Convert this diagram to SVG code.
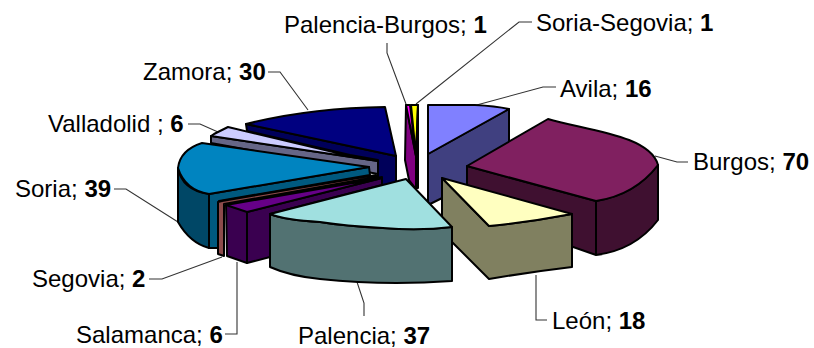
<svg xmlns="http://www.w3.org/2000/svg" width="814" height="348" viewBox="0 0 814 348">
<style>
text{font-family:"Liberation Sans",Arial,sans-serif;font-size:24px;fill:#000}
tspan{font-weight:bold}
.s path{stroke:#000;stroke-width:2;stroke-linejoin:round}
#connectors path{fill:none;stroke:#333;stroke-width:1.1}
</style>
<rect width="814" height="348" fill="#fff"/>
<g id="connectors">
<path d="M308 110L280 72H268"/>
<path d="M218 132L200 124H188"/>
<path d="M178 222L126 189H114"/>
<path d="M222 257L162 279H149"/>
<path d="M237 262V334H225"/>
<path d="M357 282L364 303V316"/>
<path d="M536 275V320H547"/>
<path d="M655 156L677 162H688"/>
<path d="M473 106L543 87H556"/>
<path d="M406 104L387 53V43"/>
<path d="M416 104L519 22H532"/>
</g>
<g id="zamora" class="s"><path d="M246 124L247 131L350 155L378 160V188L396 185V156Z" fill="#00005a"/><path d="M246 124Q310 108 385 107L396 156Z" fill="#000080"/></g>
<g id="valladolid" class="s"><path d="M211 136V143L378 174V161Z" fill="#666687"/><path d="M214 134L228 127L350 156L378 161L211 136Z" fill="#ccccff"/></g>
<g id="soria" class="s"><path d="M209 194V248Q190 243 178 222V168Q182 190 209 194Z" fill="#004766"/><path d="M209 194L369 167L370 175L219 201L218 248H209Z" fill="#00597f"/><path d="M209 194Q185 190 178 168Q180 150 202 143L369 167Z" fill="#0084c0"/></g>
<g id="segovia" class="s"><path d="M218 202L222 201L376 175V177L224 204V256L218 254Z" fill="#8c4b4b"/></g>
<g id="salamanca" class="s"><path d="M226 205L382 177V185L247 212V263L227 256Z" fill="#3a0050"/><path d="M247 212V263L270 257V214L382 185V178Z" fill="#3a0050"/><path d="M226 205L382 178L247 212Z" fill="#660088"/></g>
<g id="palencia-burgos" class="s"><path d="M406 105L416 156V189L409 180L405 160Z" fill="#800080"/><path d="M406 105H410L416 156Z" fill="#ff00ff"/></g>
<g id="soria-segovia" class="s"><path d="M411 105H418L416 156Z" fill="#ffff00"/><path d="M418 105V188H416V156Z" fill="#800080"/></g>
<g id="avila" class="s"><path d="M428 154L509 109V165L428 205Z" fill="#404080"/><path d="M428 105H475Q495 106 509 109L428 154Z" fill="#8080ff"/></g>
<g id="burgos" class="s"><path d="M467 166V210L596 255Q635 250 658 220V165Q635 195 596 201Z" fill="#3f1030"/><path d="M596 201V255" fill="none"/><path d="M467 166L548 119C585 130 650 135 658 165Q635 195 596 201Z" fill="#802060"/></g>
<g id="leon" class="s"><path d="M442 178V232L489 279Q530 272 572 267V214Q530 222 489 226Z" fill="#808060"/><path d="M442 178L572 214Q530 222 489 226Z" fill="#ffffc0"/></g>
<g id="palencia" class="s"><path d="M270 214V267Q290 276 320 279Q385 286 452 281V227Q420 231 383 228Q345 226 320 222Q285 220 270 214Z" fill="#527272"/><path d="M270 214L406 179L452 227Q420 231 383 228Q345 226 320 222Q285 220 270 214Z" fill="#a0e0e0"/></g>
<g id="labels">
<text x="284" y="33">Palencia-Burgos; <tspan>1</tspan></text>
<text x="536" y="31">Soria-Segovia; <tspan>1</tspan></text>
<text x="560" y="97">Avila; <tspan>16</tspan></text>
<text x="693" y="170">Burgos; <tspan>70</tspan></text>
<text x="552" y="329">León; <tspan>18</tspan></text>
<text x="298" y="344">Palencia; <tspan>37</tspan></text>
<text x="76" y="343">Salamanca; <tspan>6</tspan></text>
<text x="32" y="287">Segovia; <tspan>2</tspan></text>
<text x="15" y="197">Soria; <tspan>39</tspan></text>
<text x="48" y="132">Valladolid ; <tspan>6</tspan></text>
<text x="143" y="80">Zamora; <tspan>30</tspan></text>
</g>
</svg>
